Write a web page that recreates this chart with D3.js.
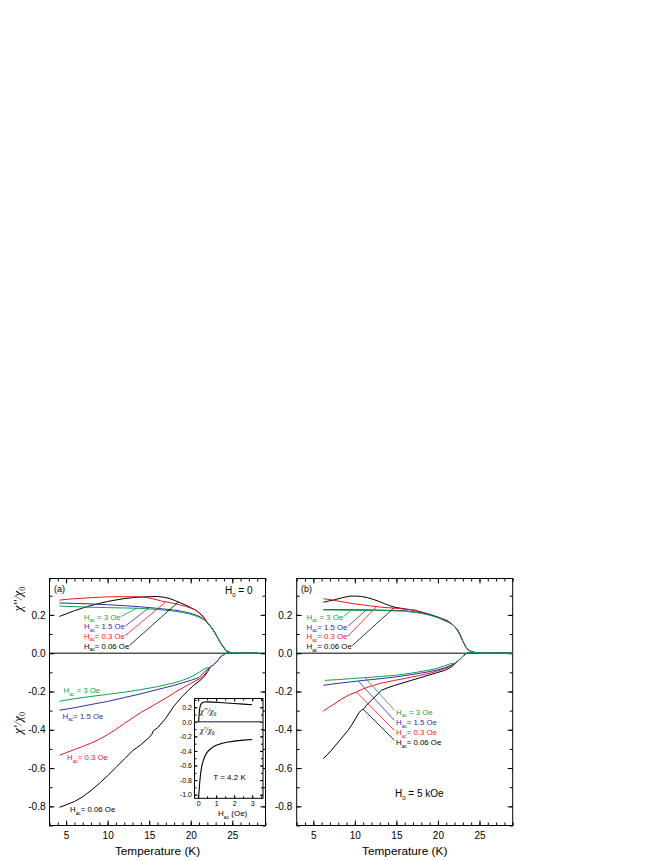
<!DOCTYPE html>
<html><head><meta charset="utf-8">
<script src="https://cdn.jsdelivr.net/npm/d3@7"></script>
<style>
body{margin:0;background:#fff;}
svg{display:block;font-family:"Liberation Sans",Arial,sans-serif;}
</style></head><body>
<svg id="c" width="664" height="860"></svg>
<script>
// ---------- tick labels ----------
const xTicks = [5, 10, 15, 20, 25];
const yTicks = [-0.8, -0.6, -0.4, -0.2, 0.0, 0.2];
const insetXTicks = [0, 1, 2, 3];
const insetYTicks = [-1.0, -0.8, -0.6, -0.4, -0.2, 0.0, 0.2];
const fieldLabels = ["3 Oe", "1.5 Oe", "0.3 Oe", "0.06 Oe"];

// ---------- panel (a) H0 = 0 : chi'' ----------
const aChi2Tail = [[22.0,0.16],[22.6,0.128],[23.0,0.1],[23.4,0.068],[23.8,0.04],[24.2,0.016],[24.6,0.005],[25,0.002],[26,0.002],[27,0.001],[28,0.001]];
const aChi2Black = [[4.2,0.192],[5,0.205],[6,0.222],[7,0.236],[8,0.249],[9,0.26],[10,0.27],[11,0.278],[12,0.285],[13,0.29],[14,0.293],[15,0.295],[16,0.296],[16.8,0.292],[17.5,0.285],[18.2,0.273],[18.8,0.262],[19.4,0.251],[20,0.238],[20.6,0.225],[21.2,0.205],[21.6,0.185]];
const aChi2Red = [[4.2,0.277],[5,0.281],[6,0.284],[7,0.287],[8,0.29],[9,0.292],[10,0.294],[11,0.295],[12,0.295],[13,0.295],[14,0.294],[15,0.288],[16,0.278],[16.5,0.272],[17.5,0.264],[18.5,0.255],[19.5,0.243],[20.5,0.227],[21.2,0.203],[21.6,0.185]];
const aChi2Blue = [[4.2,0.262],[6,0.26],[8,0.257],[10,0.253],[12,0.248],[14,0.242],[16,0.234],[18,0.225],[19,0.218],[20,0.208],[21,0.193],[21.6,0.178]];
const aChi2Green = [[4.2,0.246],[6,0.243],[8,0.24],[10,0.238],[12,0.236],[14,0.234],[16,0.228],[18,0.22],[19,0.212],[20,0.203],[21,0.188],[21.6,0.175]];

// ---------- panel (a) H0 = 0 : chi' ----------
const aChi1Tail = [[22.3,-0.075],[22.8,-0.058],[23.2,-0.04],[23.6,-0.02],[24.0,-0.006],[24.4,0.003],[24.8,0.002],[25.5,0.001],[26.5,0],[28,0]];
const aChi1Black = [[4.2,-0.805],[5,-0.792],[6,-0.775],[7,-0.75],[8,-0.717],[9,-0.68],[10,-0.64],[11,-0.597],[12,-0.553],[13,-0.51],[14,-0.478],[15,-0.44],[15.3,-0.425],[15.5,-0.405],[16,-0.39],[17,-0.34],[18,-0.275],[18.5,-0.25],[19,-0.225],[19.7,-0.195],[20.3,-0.17],[20.9,-0.15],[21.5,-0.128],[22.0,-0.1]];
const aChi1Red = [[4.2,-0.533],[5,-0.52],[6,-0.503],[7,-0.487],[8,-0.47],[9,-0.45],[10,-0.425],[11,-0.398],[12,-0.367],[13,-0.338],[14,-0.31],[15,-0.285],[16,-0.26],[17,-0.235],[18,-0.207],[19,-0.182],[20,-0.158],[21,-0.135],[21.5,-0.12],[22,-0.095]];
const aChi1Blue = [[4.2,-0.298],[6,-0.285],[8,-0.268],[10,-0.252],[12,-0.232],[14,-0.212],[16,-0.19],[18,-0.168],[19,-0.155],[20,-0.142],[21,-0.127],[21.6,-0.1],[22,-0.085]];
const aChi1Green = [[4.2,-0.251],[6,-0.238],[8,-0.226],[10,-0.215],[12,-0.204],[14,-0.19],[16,-0.175],[18,-0.155],[19,-0.142],[20,-0.125],[21,-0.1],[21.7,-0.08]];

// ---------- panel (b) H0 = 5 kOe : chi'' ----------
const bChi2Tail = [[21.6,0.155],[22.0,0.14],[22.4,0.118],[22.7,0.092],[23.0,0.062],[23.3,0.037],[23.6,0.02],[24.0,0.008],[24.5,0.003],[25,0.002],[26,0.002],[27,0.002],[28,0.002],[29,0.002]];
const bChi2Black = [[6.2,0.266],[7,0.274],[7.6,0.279],[8.5,0.29],[9.4,0.298],[10.2,0.298],[10.8,0.296],[11.5,0.29],[12,0.284],[12.8,0.272],[13.6,0.258],[14.2,0.248],[14.8,0.24],[15.5,0.235],[16.2,0.23],[16.8,0.227],[17.5,0.22],[18.4,0.21],[19.2,0.2],[20,0.188],[20.6,0.178],[21.2,0.168]];
const bChi2Red = [[6.2,0.284],[7,0.28],[8,0.272],[8.8,0.266],[9.8,0.259],[10.8,0.253],[12,0.246],[13.2,0.24],[14.8,0.235],[16,0.23],[17,0.226],[18,0.215],[19,0.203],[20,0.188],[21,0.172]];
const bChi2Blue = [[6.2,0.228],[8,0.228],[10,0.227],[12,0.226],[14,0.224],[15,0.223],[16,0.222],[17,0.217],[18,0.211],[19,0.201],[20,0.188],[21,0.168]];
const bChi2Green = [[6.2,0.226],[8,0.225],[10,0.224],[12,0.223],[14,0.222],[16,0.219],[17,0.214],[18,0.208],[19,0.198],[20,0.185],[21,0.166]];

// ---------- panel (b) H0 = 5 kOe : chi' ----------
const bChi1Tail = [[22.0,-0.055],[22.5,-0.038],[22.9,-0.02],[23.2,-0.008],[23.5,0.0],[23.8,0.004],[24.2,0.003],[24.8,0.001],[25.5,0],[29,0]];
const bChi1Black = [[6.2,-0.55],[6.7,-0.53],[7.2,-0.506],[7.7,-0.48],[8.2,-0.454],[8.7,-0.428],[9.2,-0.402],[9.7,-0.37],[10.2,-0.333],[10.5,-0.31],[10.8,-0.298],[11.1,-0.29],[11.4,-0.272],[11.9,-0.25],[12.4,-0.229],[12.8,-0.21],[13.2,-0.194],[14,-0.18],[14.8,-0.168],[15.8,-0.155],[16.8,-0.142],[17.8,-0.129],[18.8,-0.116],[19.8,-0.103],[20.8,-0.09],[21.5,-0.075],[21.8,-0.066]];
const bChi1Red = [[6.2,-0.303],[6.8,-0.285],[7.6,-0.263],[8.4,-0.24],[9.2,-0.22],[10.2,-0.203],[10.8,-0.19],[11.6,-0.177],[12.4,-0.166],[13.2,-0.156],[14,-0.149],[14.8,-0.142],[15.8,-0.134],[16.8,-0.125],[17.8,-0.116],[18.8,-0.107],[19.8,-0.095],[20.8,-0.081],[21.5,-0.068]];
const bChi1Blue = [[6.2,-0.168],[7.5,-0.16],[8.5,-0.155],[9.5,-0.15],[10.4,-0.145],[12,-0.138],[13.5,-0.131],[14.8,-0.125],[16.8,-0.112],[18.8,-0.098],[20,-0.087],[20.8,-0.077],[21.5,-0.064]];
const bChi1Green = [[6.4,-0.142],[8,-0.138],[9.5,-0.133],[11.2,-0.128],[13,-0.122],[14.8,-0.116],[16.8,-0.104],[18.8,-0.09],[20,-0.078],[20.8,-0.066],[21.5,-0.055]];

// ---------- inset: T = 4.2 K, vs H_ac ----------
const insetChi2 = [[0.03,0],[0.05,0.08],[0.08,0.17],[0.12,0.22],[0.18,0.25],[0.25,0.265],[0.35,0.272],[0.5,0.273],[0.8,0.27],[1.2,0.265],[1.6,0.258],[2,0.251],[2.5,0.243],[3,0.235]];
const insetChi1 = [[0.03,-1.03],[0.06,-0.93],[0.1,-0.8],[0.15,-0.69],[0.2,-0.61],[0.3,-0.52],[0.4,-0.46],[0.5,-0.42],[0.6,-0.39],[0.8,-0.35],[1,-0.322],[1.3,-0.297],[1.6,-0.28],[2,-0.265],[2.5,-0.252],[3,-0.242]];

// ---------- drawing ----------
const C = {black:"#000000", red:"#f0141e", blue:"#2e2ea8", green:"#12a04a"};
const svg = d3.select("#c");
const fmt = v => v.toFixed(1);

const yM = d3.scaleLinear().domain([-0.9, 0.39]).range([825.5, 578.5]);
const xA = d3.scaleLinear().domain([3, 29]).range([49.5, 265.5]);
const xB = d3.scaleLinear().domain([3, 29]).range([296.7, 512.7]);
const xMinor = d3.range(3, 30);
const yMinor = d3.range(-9, 4).map(d => d / 10);

function styleAxis(g, fs) {
  g.select(".domain").remove();
  g.selectAll(".tick line").attr("stroke", "#000").attr("stroke-width", 1);
  g.selectAll(".tick text").attr("fill", "#000").attr("font-size", fs)
    .attr("font-family", '"Liberation Sans",Arial,sans-serif');
}

function frameAxes(x, y, xt, yt, xm, ym, big, small, fs, xpad, ypad, showX, showY) {
  const [x0, x1] = x.range(), [y0, y1] = [y.range()[1], y.range()[0]];
  const g = svg.append("g");
  const add = (axis, tx, ty) => g.append("g").attr("transform", `translate(${tx},${ty})`).call(axis).call(a => styleAxis(a, fs));
  add(d3.axisBottom(x).tickValues(xt).tickSize(-big).tickPadding(xpad).tickFormat(showX ? (d => d) : ""), 0, y1);
  add(d3.axisBottom(x).tickValues(xm).tickSize(-small).tickFormat(""), 0, y1);
  add(d3.axisTop(x).tickValues(xt).tickSize(-big).tickFormat(""), 0, y0);
  add(d3.axisTop(x).tickValues(xm).tickSize(-small).tickFormat(""), 0, y0);
  add(d3.axisLeft(y).tickValues(yt).tickSize(-big).tickPadding(ypad).tickFormat(showY ? fmt : ""), x0, 0);
  add(d3.axisLeft(y).tickValues(ym).tickSize(-small).tickFormat(""), x0, 0);
  add(d3.axisRight(y).tickValues(yt).tickSize(-big).tickFormat(""), x1, 0);
  add(d3.axisRight(y).tickValues(ym).tickSize(-small).tickFormat(""), x1, 0);
  g.append("rect").attr("x", x0).attr("y", y0).attr("width", x1 - x0).attr("height", y1 - y0)
    .attr("fill", "none").attr("stroke", "#000").attr("stroke-width", 1);
  return g;
}

function curve(x, y, data, color, w) {
  svg.append("path").datum(data)
    .attr("d", d3.line().x(d => x(d[0])).y(d => y(d[1])))
    .attr("fill", "none").attr("stroke", color).attr("stroke-width", w || 1)
    .attr("stroke-linejoin", "round");
}

function valAt(data, T) {
  for (let i = 0; i < data.length - 1; i++) {
    const a = data[i], b = data[i + 1];
    if (T >= a[0] && T <= b[0]) return a[1] + (b[1] - a[1]) * (T - a[0]) / (b[0] - a[0]);
  }
  return data[data.length - 1][1];
}

// H_ac label: returns the text node
function hLabel(x, yc, val, color, sep, fs) {
  fs = fs || 7.8;
  const t = svg.append("text").attr("x", x).attr("y", yc + fs * 0.36)
    .attr("fill", color).attr("font-size", fs);
  t.append("tspan").text("H");
  t.append("tspan").attr("dy", fs * 0.32).attr("font-size", fs * 0.62).text("ac");
  t.append("tspan").attr("dy", -fs * 0.32).text(sep + val);
  return t;
}

function leader(x1, y1, x2, y2, color) {
  svg.append("line").attr("x1", x1).attr("y1", y1).attr("x2", x2).attr("y2", y2)
    .attr("stroke", color).attr("stroke-width", 0.8);
}

// ---- panel (a) ----
frameAxes(xA, yM, xTicks, yTicks, xMinor, yMinor, 5, 3, 10, 6.5, 4, true, true);
svg.append("line").attr("x1", xA(3)).attr("x2", xA(29)).attr("y1", yM(0)).attr("y2", yM(0)).attr("stroke", "#000");
const aChi2 = [aChi2Black.concat(aChi2Tail), aChi2Red.concat(aChi2Tail), aChi2Blue.concat(aChi2Tail), aChi2Green.concat(aChi2Tail)];
const aChi1 = [aChi1Black.concat(aChi1Tail), aChi1Red.concat(aChi1Tail), aChi1Blue.concat(aChi1Tail), aChi1Green.concat(aChi1Tail)];
const cols = [C.black, C.red, C.blue, C.green];
[0, 1, 2, 3].forEach(i => { curve(xA, yM, aChi2[i], cols[i]); curve(xA, yM, aChi1[i], cols[i]); });

// ---- panel (b) ----
frameAxes(xB, yM, xTicks, yTicks, xMinor, yMinor, 5, 3, 10, 6.5, 4.5, true, true);
svg.append("line").attr("x1", xB(3)).attr("x2", xB(29)).attr("y1", yM(0)).attr("y2", yM(0)).attr("stroke", "#000");
const bChi2 = [bChi2Black.concat(bChi2Tail), bChi2Red.concat(bChi2Tail), bChi2Blue.concat(bChi2Tail), bChi2Green.concat(bChi2Tail)];
const bChi1 = [bChi1Black.concat(bChi1Tail), bChi1Red.concat(bChi1Tail), bChi1Blue.concat(bChi1Tail), bChi1Green.concat(bChi1Tail)];
[0, 1, 2, 3].forEach(i => { curve(xB, yM, bChi2[i], cols[i]); curve(xB, yM, bChi1[i], cols[i]); });

// ---- labels panel (a), upper (chi'') with leaders ----
const order = [3, 2, 1, 0]; // green, blue, red, black (top to bottom)
const seps = [" = ", "= ", "= ", "= "];
const aUpY = [617, 626.5, 636, 645.8];
const aUpT = [13.5, 15, 17, 18.5];
order.forEach((ci, k) => {
  const t = hLabel(84, aUpY[k], fieldLabels[k], cols[ci], seps[k]);
  const bb = t.node().getBBox();
  leader(bb.x + bb.width + 0.5, aUpY[k] - 0.5, xA(aUpT[k]), yM(valAt(aChi2[ci], aUpT[k])), cols[ci]);
});
// lower (chi')
const aLoX = [63.5, 62.5, 67, 70];
const aLoY = [690.5, 716, 757.5, 809.5];
order.forEach((ci, k) => hLabel(aLoX[k], aLoY[k], fieldLabels[k], cols[ci], seps[k]));

// ---- labels panel (b) ----
const bUpY = [617, 626.8, 636.6, 646.2];
const bUpT = [9.6, 11.4, 12.6, 14.8];
order.forEach((ci, k) => {
  const t = hLabel(306.5, bUpY[k], fieldLabels[k], cols[ci], seps[k]);
  const bb = t.node().getBBox();
  leader(bb.x + bb.width + 0.5, bUpY[k] - 0.5, xB(bUpT[k]), yM(valAt(bChi2[ci], bUpT[k])), cols[ci]);
});
const bLoY = [712, 722.3, 732.3, 742.2];
const bLoT = [11.2, 10.4, 10.2, 11.0];
order.forEach((ci, k) => {
  hLabel(396, bLoY[k], fieldLabels[k], cols[ci], seps[k]);
  leader(xB(bLoT[k]), yM(valAt(bChi1[ci], bLoT[k])), 394.3, bLoY[k] - 2, cols[ci]);
});

// ---- panel annotations ----
svg.append("text").attr("x", 54).attr("y", 592.3).attr("font-size", 9).text("(a)");
svg.append("text").attr("x", 301).attr("y", 592.3).attr("font-size", 9).text("(b)");
function h0(x, yb, rest) {
  const t = svg.append("text").attr("x", x).attr("y", yb).attr("font-size", 10);
  t.append("tspan").text("H");
  t.append("tspan").attr("dy", 3).attr("font-size", 6).text("0");
  t.append("tspan").attr("dy", -3).text(rest);
}
h0(225, 593.8, " = 0");
h0(395, 797, " = 5 kOe");

// axis titles
svg.append("text").attr("x", xA(16)).attr("y", 854.5).attr("text-anchor", "middle").attr("font-size", 11.8).text("Temperature (K)");
svg.append("text").attr("x", xB(16)).attr("y", 854.5).attr("text-anchor", "middle").attr("font-size", 11.8).text("Temperature (K)");

function chiTitle(x, y, primes) {
  const t = svg.append("text").attr("transform", `translate(${x},${y}) rotate(-90)`)
    .attr("text-anchor", "middle").attr("font-size", 13)
    .attr("font-family", '"Liberation Serif","Times New Roman",serif').attr("font-style", "italic");
  t.append("tspan").text("\u03c7" + primes + "/\u03c7");
  t.append("tspan").attr("dy", 3).attr("font-size", 8).attr("font-style", "normal").text("0");
}
chiTitle(22, 599, "''");
chiTitle(22, 723, "'");

// ---- inset ----
const xI = d3.scaleLinear().domain([-0.2, 3.6]).range([194.5, 263]);
const yI = d3.scaleLinear().domain([-1.05, 0.32]).range([798.3, 698.5]);
svg.append("rect").attr("x", 194.5).attr("y", 698.5).attr("width", 68.5).attr("height", 99.8).attr("fill", "#fff");
frameAxes(xI, yI, insetXTicks, insetYTicks, d3.range(0, 3.6, 0.5), d3.range(-10, 4).map(d => d / 10), 3, 2, 7, 3, 2.5, true, true);
svg.append("line").attr("x1", xI(-0.2)).attr("x2", xI(3.6)).attr("y1", yI(0)).attr("y2", yI(0)).attr("stroke", "#666").attr("stroke-width", 1.5);
curve(xI, yI, insetChi2, "#000", 1.1);
curve(xI, yI, insetChi1, "#000", 1.1);
function insetChi(x, yb, primes) {
  const t = svg.append("text").attr("x", x).attr("y", yb).attr("font-size", 8.5)
    .attr("font-family", '"Liberation Serif","Times New Roman",serif').attr("font-style", "italic");
  t.append("tspan").text("\u03c7" + primes + "/\u03c7");
  t.append("tspan").attr("dy", 2).attr("font-size", 5.5).attr("font-style", "normal").text("0");
}
insetChi(200, 713.5, "''");
insetChi(200, 732.5, "'");
svg.append("text").attr("x", 229.5).attr("y", 779.5).attr("text-anchor", "middle").attr("font-size", 8).text("T = 4.2 K");
{
  const t = svg.append("text").attr("x", 218).attr("y", 816.3).attr("font-size", 8);
  t.append("tspan").text("H");
  t.append("tspan").attr("dy", 2.5).attr("font-size", 5).text("ac");
  t.append("tspan").attr("dy", -2.5).text(" (Oe)");
}
</script>
</body></html>
